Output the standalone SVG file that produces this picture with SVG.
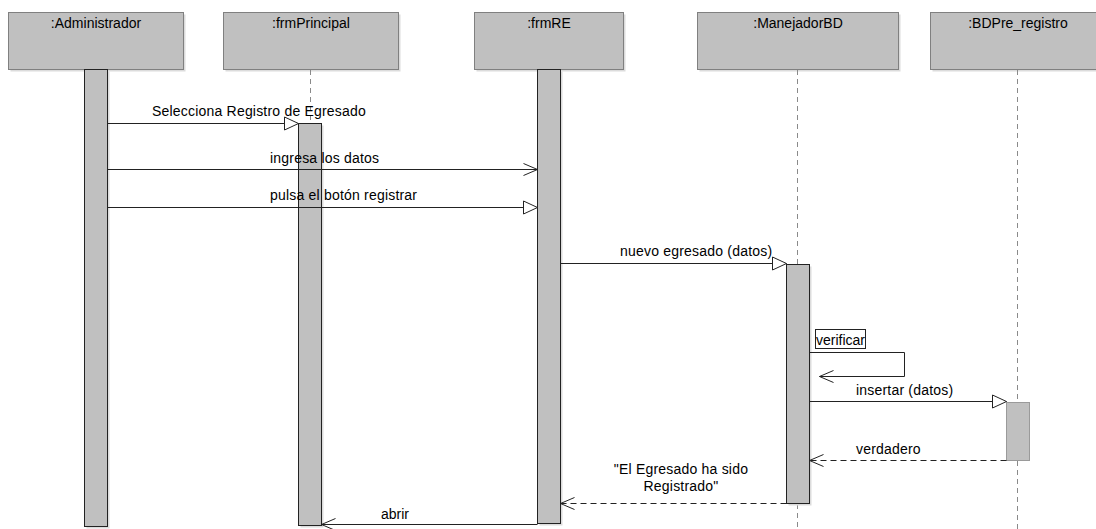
<svg xmlns="http://www.w3.org/2000/svg" width="1096" height="529" viewBox="0 0 1096 529">
  <style>
    text { font-family: "Liberation Sans", Arial, sans-serif; font-size: 14px; fill: #000; }
    .lbl { letter-spacing: 0.2px; }
    .head { fill: #c0c0c0; stroke: #808080; stroke-width: 1; }
    .shadow { fill: #dcdcdc; }
    .life { stroke: #8a8a8a; stroke-width: 1; stroke-dasharray: 5 4; fill: none; }
    .act { fill: #c0c0c0; stroke: #222; stroke-width: 1; }
    .act-light { fill: #c0c0c0; stroke: #9a9a9a; stroke-width: 1; }
    .msg { stroke: #222; stroke-width: 1; fill: none; }
    .ret { stroke: #222; stroke-width: 1; fill: none; stroke-dasharray: 6 4; }
    .mid { text-anchor: middle; }
  </style>
  <defs>
    <marker id="tri" markerUnits="userSpaceOnUse" markerWidth="16" markerHeight="16" refX="14" refY="6.5" orient="auto" overflow="visible">
      <path d="M0,0 L14,6.5 L0,13 Z" fill="#fff" stroke="#222" stroke-width="1"/>
    </marker>
    <marker id="open" markerUnits="userSpaceOnUse" markerWidth="16" markerHeight="16" refX="14" refY="6" orient="auto" overflow="visible">
      <path d="M0,0 L14,6 L0,12" fill="none" stroke="#222" stroke-width="1"/>
    </marker>
  </defs>

  <rect width="1096" height="529" fill="#fff"/>

  <!-- :Administrador -->
  <g id="administrador">
    <rect class="shadow" x="10.5" y="14.5" width="175" height="57"/>
    <rect class="head" x="8.5" y="12.5" width="175" height="57"/>
    <text class="mid" x="96" y="28">:Administrador</text>
    <rect class="shadow" x="86.5" y="71.5" width="23" height="457"/>
    <rect class="act" x="84.5" y="69.5" width="23" height="457"/>
  </g>

  <!-- :frmPrincipal -->
  <g id="frmPrincipal">
    <rect class="shadow" x="225.5" y="14.5" width="175" height="57"/>
    <rect class="head" x="223.5" y="12.5" width="175" height="57"/>
    <text class="mid" x="311" y="28">:frmPrincipal</text>
    <line class="life" x1="310.5" y1="70" x2="310.5" y2="123"/>
    <rect class="shadow" x="300.5" y="125.5" width="23" height="402"/>
    <rect class="act" x="298.5" y="123.5" width="23" height="402"/>
  </g>

  <!-- :frmRE -->
  <g id="frmRE">
    <rect class="shadow" x="476.5" y="14.5" width="149" height="57"/>
    <rect class="head" x="474.5" y="12.5" width="149" height="57"/>
    <text class="mid" x="549" y="28">:frmRE</text>
    <rect class="shadow" x="539.5" y="71.5" width="23" height="454"/>
    <rect class="act" x="537.5" y="69.5" width="23" height="454"/>
  </g>

  <!-- :ManejadorBD -->
  <g id="manejadorBD">
    <rect class="shadow" x="699.5" y="14.5" width="201" height="57"/>
    <rect class="head" x="697.5" y="12.5" width="201" height="57"/>
    <text class="mid" x="798" y="28">:ManejadorBD</text>
    <line class="life" x1="797.5" y1="70" x2="797.5" y2="264"/>
    <line class="life" x1="797.5" y1="504" x2="797.5" y2="529"/>
    <rect class="shadow" x="788.5" y="266.5" width="23" height="239"/>
    <rect class="act" x="786.5" y="264.5" width="23" height="239"/>
  </g>

  <!-- :BDPre_registro -->
  <g id="bdPreRegistro">
    <rect class="shadow" x="932.5" y="14.5" width="175" height="57"/>
    <rect class="head" x="930.5" y="12.5" width="175" height="57"/>
    <text class="mid" x="1018" y="28">:BDPre_registro</text>
    <line class="life" x1="1017.5" y1="70" x2="1017.5" y2="402"/>
    <line class="life" x1="1017.5" y1="461" x2="1017.5" y2="529"/>
    <rect class="act-light" x="1006.5" y="402.5" width="23" height="58"/>
  </g>

  <!-- messages -->
  <g id="connectors">
    <line class="msg" x1="107.5" y1="123.5" x2="298.5" y2="123.5" marker-end="url(#tri)"/>
    <text class="lbl" x="152" y="116">Selecciona Registro de Egresado</text>

    <line class="msg" x1="107.5" y1="169.5" x2="537.5" y2="169.5" marker-end="url(#open)"/>
    <text class="lbl" x="270" y="163">ingresa los datos</text>

    <line class="msg" x1="107.5" y1="207.5" x2="537.5" y2="207.5" marker-end="url(#tri)"/>
    <text class="lbl" x="270" y="200">pulsa el botón registrar</text>

    <line class="msg" x1="560.5" y1="263.5" x2="786.5" y2="263.5" marker-end="url(#tri)"/>
    <text class="lbl" x="620" y="256">nuevo egresado (datos)</text>

    <rect x="815.5" y="329.5" width="50" height="19" fill="#fff" stroke="#222" stroke-width="1"/>
    <text x="816" y="345">verificar</text>
    <polyline class="msg" points="809.5,352.5 904.5,352.5 904.5,376.5 819.5,376.5" marker-end="url(#open)"/>

    <line class="msg" x1="809.5" y1="401.5" x2="1006.5" y2="401.5" marker-end="url(#tri)"/>
    <text class="lbl" x="856" y="395">insertar (datos)</text>

    <line class="ret" x1="1006.5" y1="460.5" x2="809.5" y2="460.5" marker-end="url(#open)"/>
    <text class="lbl" x="856" y="454">verdadero</text>

    <line class="ret" x1="786.5" y1="503.5" x2="560.5" y2="503.5" marker-end="url(#open)"/>
    <text class="mid lbl" x="681" y="474">"El Egresado ha sido</text>
    <text class="mid lbl" x="681" y="491">Registrado"</text>

    <line class="msg" x1="537.5" y1="524.5" x2="321.5" y2="524.5" marker-end="url(#open)"/>
    <text class="mid" x="395" y="519">abrir</text>
  </g>
</svg>
